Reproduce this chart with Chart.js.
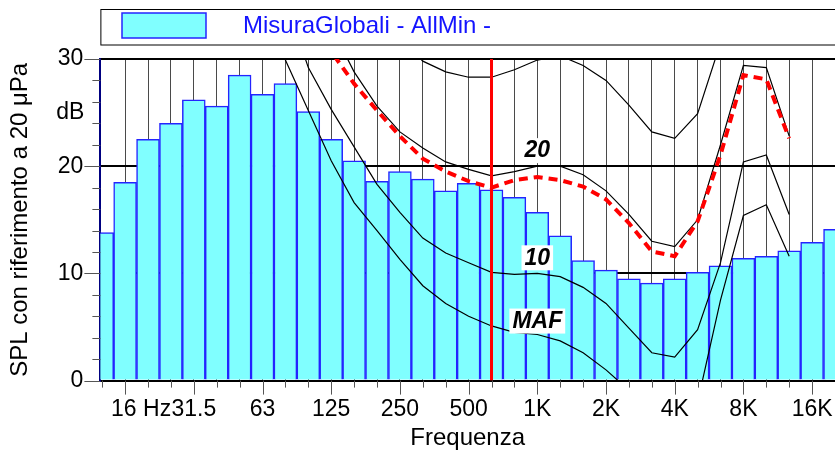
<!DOCTYPE html>
<html>
<head>
<meta charset="utf-8">
<script src="https://cdn.jsdelivr.net/npm/chart.js@4.4.1/dist/chart.umd.min.js"></script>
<style>
  html, body { margin: 0; background: #fff; overflow: hidden; }
  #wrap { width: 835px; height: 453px; overflow: hidden; }
</style>
</head>
<body>
<div id="wrap"><canvas id="chart" width="850" height="453"></canvas></div>
<script>
// third-octave bands 12.5 Hz .. 20 kHz (x axis runs on the band index)
const bands = ['12.5','16','20','25','31.5','40','50','63','80','100','125','160','200','250','315','400','500','630','800','1K','1.25K','1.6K','2K','2.5K','3.15K','4K','5K','6.3K','8K','10K','12.5K','16K','20K'];
const tickLabels = {1: '     16 Hz', 4: '31.5', 7: '63', 10: '125', 13: '250', 16: '500', 19: '1K', 22: '2K', 25: '4K', 28: '8K', 31: '16K'};

// measured spectrum (dB)
const spl = [13.8, 18.5, 22.5, 24.0, 26.2, 25.6, 28.5, 26.7, 27.7, 25.1, 22.5, 20.5, 18.6, 19.5, 18.8, 17.7, 18.4, 17.8, 17.1, 15.7, 13.5, 11.2, 10.3, 9.5, 9.1, 9.5, 10.1, 10.7, 11.4, 11.6, 12.1, 12.9, 14.1];

// equal loudness contours (dB), up to 12.5 kHz
const maf    = [95, 88, 78, 68, 60, 52, 45, 38, 29.9, 25.2, 20.5, 16.6, 14.0, 11.3, 8.85, 7.2, 6.0, 5.1, 4.5, 4.3, 3.7, 2.6, 1.0, -0.9, -3.0, -3.5, -2.0, 7.5, 15.4, 16.4, 11.6, null, null];
const phon10 = [100, 95, 85, 75, 66, 58, 50, 42, 35.5, 29.2, 25.3, 21.8, 18.3, 15.7, 13.3, 11.9, 11.0, 10.1, 9.9, 10.0, 9.7, 8.7, 7.2, 4.9, 2.6, 2.2, 4.75, 11.0, 20.4, 21.05, 15.5, null, null];
const phon20 = [105, 100, 92, 82, 73, 64, 56, 49, 43, 37.5, 33, 28.8, 25.6, 23.2, 21.7, 20.4, 19.7, 19.1, 19.5, 20.0, 20.0, 19.2, 17.7, 15.5, 13.0, 12.5, 15.0, 22.0, 29.4, 29.2, 22.8, null, null];
const phon30 = [110, 104, 98, 89, 80, 71, 63, 56, 50, 45, 41, 37, 34.5, 32, 29.8, 28.8, 28.3, 28.3, 29.0, 29.9, 30.3, 29.4, 28.0, 25.7, 23.2, 22.6, 24.9, 31.5, 39, 39, 33, null, null];
// loudness level contour of the measurement
const loudness = [104, 98, 90, 80, 71, 62, 54, 47, 41, 35, 30.7, 27.7, 25.2, 22.8, 20.7, 19.5, 18.6, 18.0, 18.7, 19.0, 18.7, 18.1, 16.9, 14.7, 12.05, 11.6, 14.85, 21.05, 28.5, 28.1, 22.6, null, null];

const contourLabels = ['MAF', '10', '20'];
const contourLabelLevels = [5.6, 11.5, 21.5];
const labelBand = 19;   // 1 kHz
const markerBand = 17;  // 630 Hz

const FONT = '"Liberation Sans", Arial, sans-serif';
Chart.defaults.font.family = FONT;
Chart.defaults.color = '#000';

const toPoints = vals => vals.map((v, i) => ({x: i, y: v}));

const decor = {
  id: 'decor',
  afterDatasetsDraw(chart) {
    const {ctx, scales: {x, y}} = chart;
    ctx.save();
    ctx.font = 'italic bold 23px ' + FONT;
    ctx.textAlign = 'center';
    ctx.textBaseline = 'middle';
    contourLabels.forEach((t, k) => {
      const cx = x.getPixelForValue(labelBand);
      const cy = y.getPixelForValue(contourLabelLevels[k]);
      const w = ctx.measureText(t).width;
      ctx.fillStyle = '#fff';
      ctx.fillRect(cx - w / 2 - 3, cy - 12, w + 6, 25);
      ctx.fillStyle = '#000';
      ctx.fillText(t, cx, cy + 1);
    });
    ctx.restore();
  },
  afterDraw(chart) {
    const {ctx, chartArea: a, scales: {x, y}} = chart;
    ctx.save();
    // tick marks
    ctx.strokeStyle = '#555';
    ctx.lineWidth = 1;
    ctx.beginPath();
    for (let i = 0; i < bands.length; i++) {
      const px = Math.round(x.getPixelForValue(i)) + 0.5;
      const len = tickLabels[i] ? 14 : 7;
      ctx.moveTo(px, a.bottom);
      ctx.lineTo(px, a.bottom + len);
    }
    for (let v = 0; v <= 30; v += 2) {
      const py = Math.round(y.getPixelForValue(v)) + 0.5;
      const len = v % 10 === 0 ? 16 : 8;
      ctx.moveTo(a.left - len, py);
      ctx.lineTo(a.left, py);
    }
    ctx.stroke();

    // unit label
    ctx.font = '23px ' + FONT;
    ctx.fillStyle = '#000';
    ctx.textAlign = 'right';
    ctx.textBaseline = 'middle';
    ctx.fillText('dB', a.left - 16, y.getPixelForValue(25));

    // legend frame
    ctx.strokeStyle = '#000';
    ctx.lineWidth = 1;
    ctx.strokeRect(a.left + 0.5, 9.5, chart.width, 35.5);
    const ds = chart.data.datasets[0];
    ctx.fillStyle = ds.backgroundColor;
    ctx.fillRect(122, 13, 84, 25);
    ctx.strokeStyle = ds.borderColor;
    ctx.lineWidth = 1.5;
    ctx.strokeRect(122, 13, 84, 25);
    ctx.font = '24px ' + FONT;
    ctx.fillStyle = '#1414ff';
    ctx.textAlign = 'left';
    ctx.fillText(ds.label, 243, 26);
    ctx.restore();
  }
};

new Chart(document.getElementById('chart'), {
  type: 'bar',
  data: {
    datasets: [
      {
        type: 'bar',
        label: 'MisuraGlobali - AllMin -',
        data: toPoints(spl),
        backgroundColor: '#80ffff',
        borderColor: '#2424ff',
        borderWidth: 1.5,
        barPercentage: 1,
        categoryPercentage: 1,
        clip: 0,
        order: 10
      },
      { type: 'line', label: 'MAF', data: toPoints(maf), borderColor: '#000', borderWidth: 1.2, pointRadius: 0, order: 1 },
      { type: 'line', label: '10', data: toPoints(phon10), borderColor: '#000', borderWidth: 1.2, pointRadius: 0, order: 1 },
      { type: 'line', label: '20', data: toPoints(phon20), borderColor: '#000', borderWidth: 1.2, pointRadius: 0, order: 1 },
      { type: 'line', label: '30', data: toPoints(phon30), borderColor: '#000', borderWidth: 1.2, pointRadius: 0, order: 1 },
      { type: 'line', label: 'Loudness', data: toPoints(loudness), borderColor: '#ff0000', borderWidth: 4, borderDash: [9, 6], pointRadius: 0, order: 0 },
      { type: 'line', label: 'marker', data: [{x: markerBand, y: 0}, {x: markerBand, y: 30}], borderColor: '#ff0000', borderWidth: 3, pointRadius: 0, order: 0 }
    ]
  },
  plugins: [decor],
  options: {
    responsive: false,
    animation: false,
    events: [],
    layout: { padding: { top: 59, right: 0, bottom: 0, left: 0 } },
    plugins: {
      legend: { display: false },
      tooltip: { enabled: false }
    },
    scales: {
      x: {
        type: 'linear',
        min: -0.08,
        max: 32,
        offset: false,
        afterBuildTicks: s => { s.ticks = bands.map((b, i) => ({value: i})); },
        grid: {
          offset: false,
          drawTicks: false,
          color: c => (c.tick && c.tick.value === 0) ? 'rgba(0,0,0,0)' : '#4a4a4a',
          lineWidth: 1
        },
        border: { color: '#000', width: 2 },
        ticks: {
          autoSkip: false,
          maxRotation: 0,
          minRotation: 0,
          padding: 15,
          font: { size: 23 },
          callback: (v, i) => tickLabels[i] || ''
        },
        title: {
          display: true,
          text: 'Frequenza',
          font: { size: 24 },
          padding: { top: -14, bottom: 0 }
        }
      },
      y: {
        min: 0,
        max: 30,
        grid: {
          drawTicks: false,
          color: c => c.tick.value % 10 === 0 ? '#000' : 'rgba(0,0,0,0)',
          lineWidth: c => c.tick.value % 10 === 0 ? 2 : 0
        },
        border: { color: '#000080', width: 2 },
        ticks: {
          stepSize: 2,
          autoSkip: false,
          padding: 17,
          font: { size: 23 },
          callback: v => v % 10 === 0 ? v : ''
        },
        title: {
          display: true,
          text: 'SPL con riferimento a 20 μPa',
          font: { size: 24 },
          padding: { top: 6, bottom: 6 }
        }
      }
    }
  }
});
</script>
</body>
</html>
